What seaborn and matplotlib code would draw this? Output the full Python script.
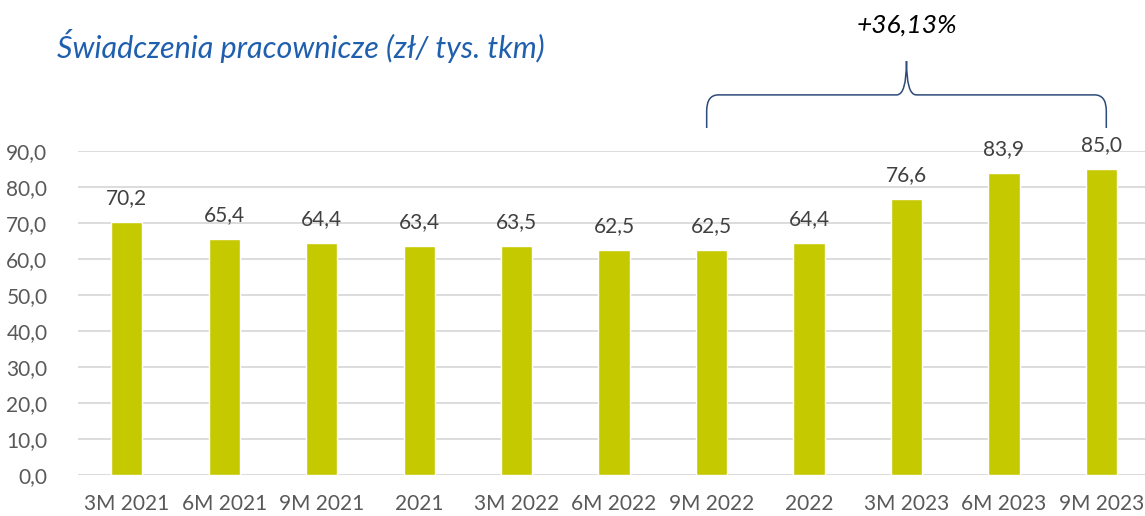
import numpy as np
import matplotlib
matplotlib.use("Agg")
import matplotlib.pyplot as plt
import pandas as pd
import seaborn as sns
from matplotlib.path import Path
from matplotlib.patches import PathPatch

# data
periods = ["3M 2021", "6M 2021", "9M 2021", "2021", "3M 2022", "6M 2022",
           "9M 2022", "2022", "3M 2023", "6M 2023", "9M 2023"]
values = [70.2, 65.4, 64.4, 63.4, 63.5, 62.5, 62.5, 64.4, 76.6, 83.9, 85.0]
yticks = [0, 10, 20, 30, 40, 50, 60, 70, 80, 90]
subtitle = "Świadczenia pracownicze (zł/ tys. tkm)"
change_label = "+36,13%"

df = pd.DataFrame({"okres": periods, "wartosc": values})

sns.set_style("white")
plt.rcParams["font.family"] = ["Lato", "DejaVu Sans"]

fig = plt.figure(figsize=(11.45, 5.16), dpi=100)
ax = fig.add_axes([78 / 1145, 41.3 / 516, 1 - 78 / 1145, 324 / 516])

sns.barplot(data=df, x="okres", y="wartosc", color="#C5C900", width=0.32,
            saturation=1, ax=ax, zorder=3)

ax.set_xlim(-0.5, 10.447)
ax.set_ylim(0, 90)
ax.set_yticks(yticks)
ax.set_yticklabels([f"{t:.1f}".replace(".", ",") for t in yticks])
ax.set_xlabel("")
ax.set_ylabel("")
ax.grid(axis="y", color="#D9D9D9", linewidth=1.3, zorder=0)
ax.set_axisbelow(True)
for s in ax.spines.values():
    s.set_visible(False)
ax.tick_params(axis="both", length=0, labelsize=15, labelcolor="#595959")
ax.tick_params(axis="x", pad=14)
ax.tick_params(axis="y", pad=22)

# value labels above the bars
for i, v in enumerate(values):
    ax.text(i, v + 5, f"{v:.1f}".replace(".", ","), ha="center", va="baseline",
            fontsize=15, color="#404040", clip_on=False)

# curly brace over the last bars
lo, hi, mid = 5.95, 10.05, 8.0
yb, yh, yt = 96.3, 105.5, 114.9
verts = [(lo, yb), (lo, yh - 4.5), (lo, yh), (lo + 0.12, yh), (mid - 0.1, yh),
         (mid, yh), (mid, yt), (mid, yh), (mid + 0.1, yh), (hi - 0.12, yh),
         (hi, yh), (hi, yh - 4.5), (hi, yb)]
codes = [Path.MOVETO, Path.LINETO, Path.CURVE3, Path.CURVE3, Path.LINETO,
         Path.CURVE3, Path.CURVE3, Path.CURVE3, Path.CURVE3, Path.LINETO,
         Path.CURVE3, Path.CURVE3, Path.LINETO]
brace = PathPatch(Path(verts, codes), facecolor="none", edgecolor="#2E4A78",
                  linewidth=1.1, clip_on=False)
ax.add_patch(brace)
ax.text(mid, 124.9, change_label, ha="center", va="center", fontsize=19,
        style="italic", color="#000000", clip_on=False)

fig.text(57 / 1145, 1 - 46 / 516, subtitle, ha="left", va="center",
         fontsize=22, style="italic", color="#1F5FAD")

fig.savefig("out.png", dpi=100)
